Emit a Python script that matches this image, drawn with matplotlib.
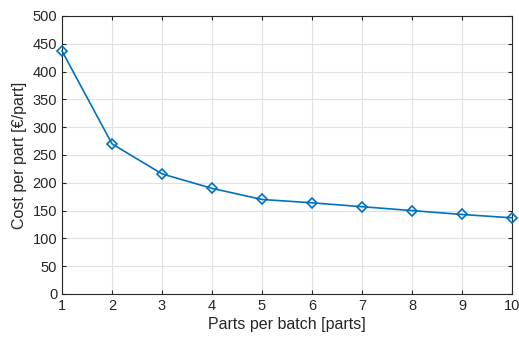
import matplotlib
matplotlib.use("Agg")
import matplotlib.pyplot as plt

parts = [1, 2, 3, 4, 5, 6, 7, 8, 9, 10]
cost = [437, 270, 216, 190, 170, 164, 157, 150, 143, 137]
xticks = list(range(1, 11))
yticks = list(range(0, 501, 50))

plt.rcParams['font.family'] = ['Liberation Sans', 'DejaVu Sans']

fig = plt.figure(figsize=(5.19, 3.38), dpi=100)
ax = fig.add_axes([0.1195, 0.1302, 0.867, 0.8225])
ax.plot(parts, cost, color='#0072BD', lw=1.2, marker='D', markersize=5.5,
        markerfacecolor='none', markeredgewidth=1.2, clip_on=False, zorder=3)
ax.set_xlim(1, 10)
ax.set_ylim(0, 500)
ax.set_xticks(xticks)
ax.set_yticks(yticks)
ax.grid(True, color='#e1e1e1', lw=0.8)
ax.set_axisbelow(True)
for s in ax.spines.values():
    s.set_color('#262626')
    s.set_linewidth(0.8)
ax.tick_params(direction='in', length=3, colors='#262626', labelsize=10.5,
               top=True, right=True, width=0.8)
ax.set_xlabel('Parts per batch [parts]', fontsize=11.5, color='#262626', labelpad=3)
ax.set_ylabel('Cost per part [€/part]', fontsize=11.5, color='#262626', labelpad=4)
fig.savefig('out.png', dpi=100)
